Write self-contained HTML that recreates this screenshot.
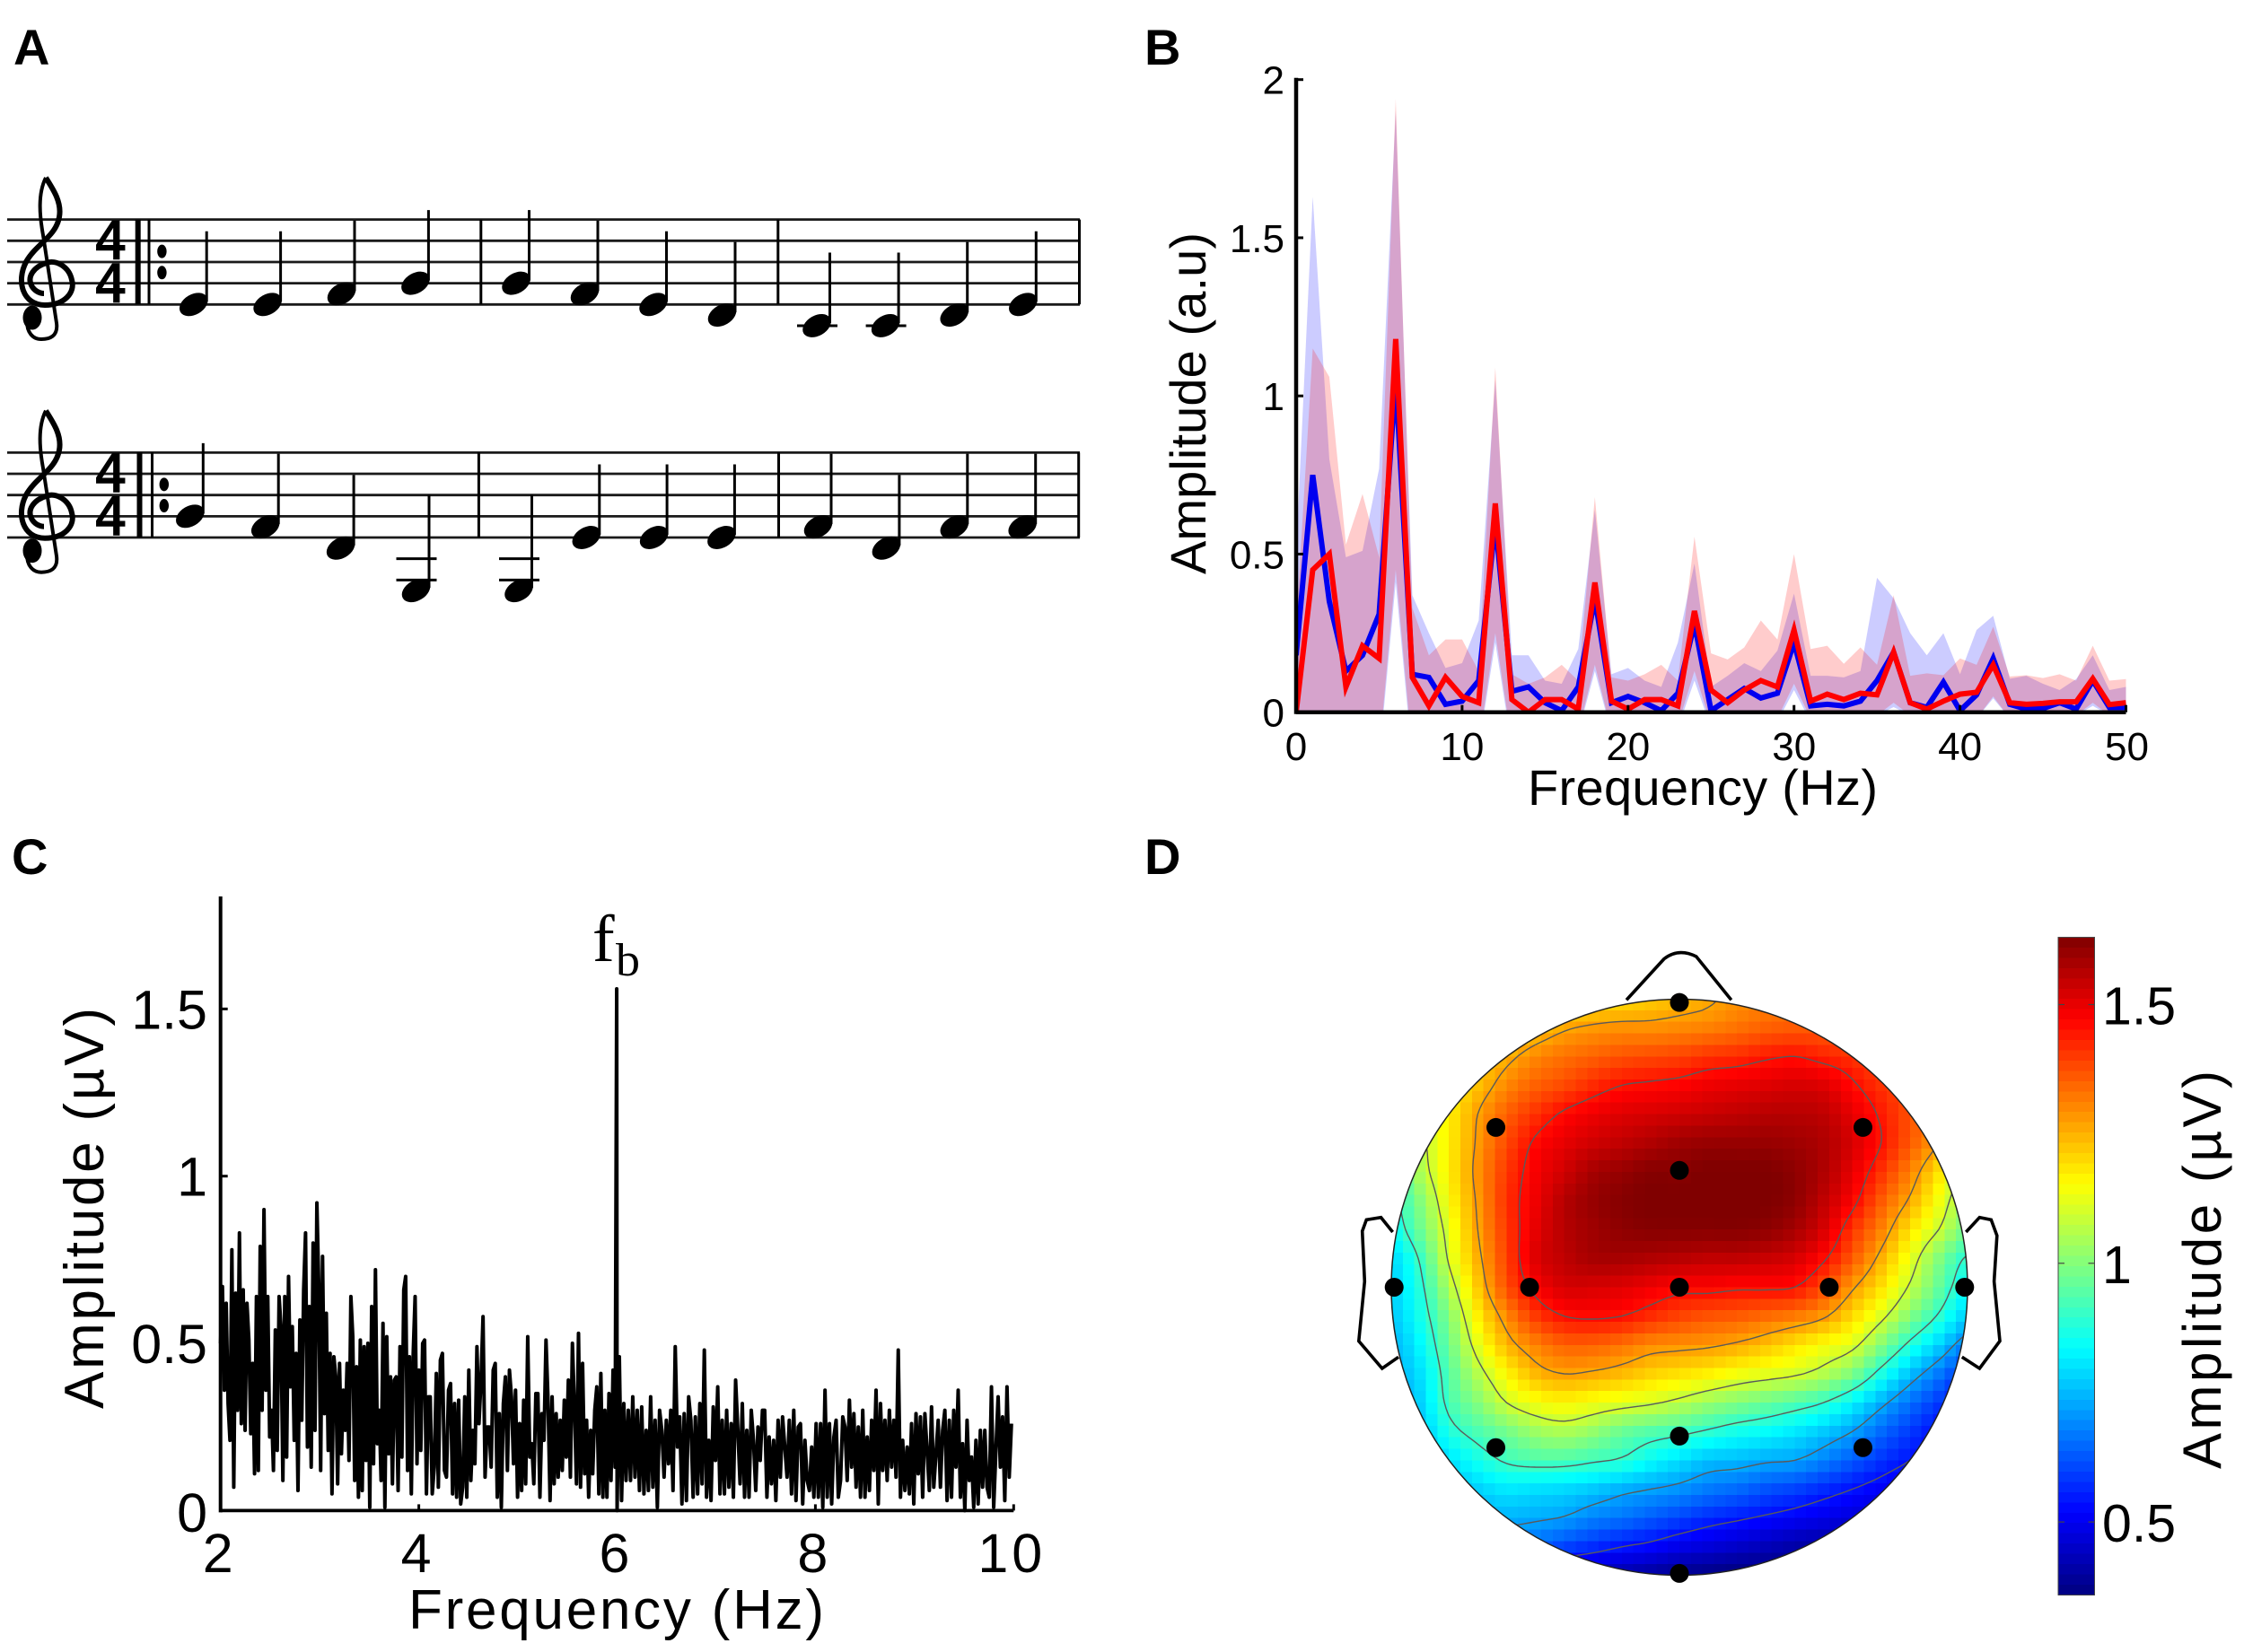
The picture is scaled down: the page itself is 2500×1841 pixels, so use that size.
<!DOCTYPE html>
<html lang="en">
<head>
<meta charset="utf-8">
<title>Music rhythm EEG figure</title>
<style>
html,body{margin:0;padding:0;background:#fff;width:2500px;height:1841px;overflow:hidden}
svg{display:block}
text{font-family:"Liberation Sans",sans-serif;fill:#000}
.tick{font-size:44px}
.tickc{font-size:61px}
.letter{font-size:56px;font-weight:bold}
</style>
</head>
<body>
<svg id="fig" xmlns="http://www.w3.org/2000/svg" width="2500" height="1841" viewBox="0 0 2500 1841">
  <defs>
    <clipPath id="plotB"><rect x="1444" y="60" width="925" height="734"/></clipPath>
    <clipPath id="headClip"><circle cx="1871" cy="1434.5" r="321"/></clipPath>
    <g id="clef-shape">
      <path d="M51 198C60 212 69 226 66 242C62 264 40 272 29 292C18 313 25 340 50 340C72 340 84 326 80 312C77 297 62 289 52 293C38 297 30 308 35 318C38 324 44 327 49 327" fill="none" stroke="#000" stroke-width="6"/>
      <path d="M51 198C42 216 44 240 48 262L63 360C65 375 55 378 46 378C36 378 30 370 30 358" fill="none" stroke="#000" stroke-width="4"/>
      <ellipse cx="36" cy="354" rx="10.5" ry="13.5" fill="#000"/>
    </g>
  </defs>

  <text class="letter" x="15" y="72">A</text>
  <text class="letter" x="1275" y="72">B</text>
  <text class="letter" x="13" y="974">C</text>
  <text class="letter" x="1275" y="974">D</text>

  <g id="panelA"></g>

  <g id="panelB">
    <text font-size="56" transform="translate(1343,640) rotate(-90)" textLength="381">Amplitude (a.u)</text>
    <text font-size="56" x="1702" y="897" textLength="390">Frequency (Hz)</text>
  </g>

  <g id="panelC">
    <text font-size="62" transform="translate(115,1570) rotate(-90)" textLength="447">Amplitude (µV)</text>
    <text font-size="62" x="455" y="1815" textLength="463">Frequency (Hz)</text>
    <text x="660" y="1071" font-size="74" style="font-family:'Liberation Serif',serif">f</text>
    <text x="686" y="1087" font-size="52" textLength="27" lengthAdjust="spacingAndGlyphs" style="font-family:'Liberation Serif',serif">b</text>
  </g>

  <g id="panelD">
    <text font-size="60" transform="translate(2474,1637) rotate(-90)" textLength="444">Amplitude (µV)</text>
  </g>
</svg>

<script>
/* ---------- Panel A: melody, staff steps above the bottom line, one list per staff ---------- */
const melodyStaff1 = [0,0,1,2, 2,1,0,-1, -2,-2,-1,0];
const melodyStaff2 = [2,1,-1,-5, -5,0,0,0, 1,-1,1,1];

/* ---------- Panel B: spectrum series, one value per Hz from 0 to 50 ---------- */
const freqAxisB = [0,1,2,3,4,5,6,7,8,9,10,11,12,13,14,15,16,17,18,19,20,21,22,23,24,25,26,27,28,29,30,31,32,33,34,35,36,37,38,39,40,41,42,43,44,45,46,47,48,49,50];
const meanBlue = [.18,.75,.35,.13,.18,.31,1.05,.12,.11,.025,.035,.1,.6,.066,.08,.03,.005,.08,.36,.03,.05,.03,.005,.06,.28,.005,.04,.075,.045,.06,.22,.02,.025,.02,.035,.10,.19,.03,.015,.095,.005,.055,.17,.025,.01,.012,.03,.01,.10,.015,.015];
const meanRed = [0,.45,.5,.08,.21,.17,1.18,.11,.02,.11,.05,.03,.66,.04,0,.04,.04,.01,.41,.035,.01,.04,.04,.02,.32,.07,.03,.07,.10,.08,.26,.035,.057,.04,.06,.055,.19,.03,.01,.035,.057,.063,.15,.03,.025,.028,.033,.033,.106,.024,.03];
const upperBlue = [.5,1.63,.8,.49,.51,.77,1.9,.37,.25,.14,.155,.29,1.05,.18,.18,.1,.09,.2,.64,.12,.14,.1,.08,.22,.47,.08,.115,.155,.13,.195,.375,.115,.115,.11,.13,.425,.36,.25,.18,.25,.12,.26,.305,.106,.115,.09,.07,.105,.18,.07,.08];
const upperRed = [.27,1.15,1.06,.53,.69,.49,1.94,.33,.18,.23,.23,.13,1.09,.12,.09,.11,.15,.1,.68,.11,.1,.12,.15,.1,.555,.186,.167,.205,.29,.23,.5,.2,.21,.153,.205,.15,.37,.115,.123,.117,.17,.15,.27,.113,.117,.108,.12,.1,.21,.1,.105];
const lowerBlue = [-.1,-.1,-.1,-.1,-.1,-.15,.41,-.15,-.1,-.1,-.1,-.11,.22,-.11,-.1,-.1,-.1,-.065,.13,-.065,-.1,-.1,-.1,-.05,.1,-.05,-.1,-.1,-.1,-.03,.07,-.03,-.1,-.1,-.1,-.01,.016,-.01,-.1,-.1,-.1,-.02,.044,-.02,-.1,-.1,-.1,-.01,.02,-.01,-.1];
const lowerRed = [-.1,-.1,-.1,-.1,-.1,-.13,.45,-.13,-.1,-.1,-.1,-.1,.25,-.1,-.1,-.1,-.1,-.06,.15,-.06,-.1,-.1,-.1,-.04,.13,-.04,-.1,-.1,-.1,-.02,.09,-.02,-.1,-.1,-.1,-.01,.03,-.01,-.1,-.1,-.1,-.02,.05,-.02,-.1,-.1,-.1,-.01,.03,-.01,-.1];
const xTicksB = [0,10,20,30,40,50];
const yTicksB = [0,.5,1,1.5,2];

/* ---------- Panel C: amplitude (hundredths of µV) read across four frequency stretches ---------- */
const ampStretch1 = [50,67,36,62,32,21,78,7,65,30,83,26,66,24,62,51,23,44,11,64,12,79,30,90,36,64,22,30,12,54,18,64,55,9,64,16,70,37,55,21,47,6,57,27,66,83,19,61,13,80,24,92,67,12,76,29,59,18,47,5,46,40,8,44,17,36,24,44,15,64,52,9,43,4,51,6,49,15,50,1,61,14,72,20,30,9,56,1,52,17,40,8,39,40,6,49,16,66,70,12,46,5,47,64,14,42,18,50,51,5,34];
const ampStretch2 = [34,5,13,41,7,45,47,12,10,36,38,5,32,4,33,2,7,34,4,42,9,24,14,49,26,39,58,10,25,25,13,42,44,4,29,1,32,40,12,42,34,14,36,4,26,6,33,8,52,16,20,8,35,35,4,29,21,51,33,3,34,8,29,10,27,12,33,16,39,10,50,31,8,53,7,44,11,27,4,24,11,30,37,5,41,4,30,4,35,9,42,13];
const beatPeak = [156];
const ampStretch3 = [0,46,3,32,9,30,9,34,10,30,6,31,5,24,6,34,7,27,1,30,24,10,27,14,30,6,49,19,28,2,29,3,34,27,4,28,5,32,8,48,4,21,3,31,15,37,5,27,5,30,7,26,4,39,24,8,32,4,24,4,30,21,6,25,15,30,30,4,22,8,21,3,27,10,28,19,10,27,5,30,3,25,26,2,21,9,6,19,4,26];
const ampStretch4 = [4,26,1,36,4,26,2,22,27,4,9,28,25,9,33,13,29,7,25,4,30,4,22,6,27,12,36,2,32,12,27,9,30,13,27,10,48,4,21,6,19,5,26,2,29,11,28,4,29,18,6,31,7,17,27,7,24,30,3,27,4,30,13,36,4,20,0,27,9,16,1,21,2,24,7,24,7,4,37,1,18,34,13,28,3,37,10,26];
const stretchEdgesHz = [2,4.115,6,8.03,10];
const xTicksC = [2,4,6,8,10];
const yTicksC = [.5,1,1.5];

/* ---------- Panel D: scalp amplitude map, 21 rows (front to back) by 21 columns (left to right) ---------- */
const scalpMap = [
[1.0,1.03,1.05,1.08,1.11,1.14,1.17,1.19,1.20,1.22,1.24,1.26,1.29,1.31,1.32,1.32,1.31,1.28,1.24,1.20,1.16],
[1.02,1.05,1.10,1.14,1.18,1.22,1.26,1.28,1.29,1.29,1.30,1.31,1.33,1.35,1.36,1.36,1.35,1.32,1.28,1.24,1.20],
[1.04,1.09,1.15,1.20,1.25,1.30,1.33,1.35,1.37,1.38,1.39,1.41,1.42,1.44,1.45,1.43,1.41,1.37,1.33,1.28,1.23],
[1.05,1.10,1.16,1.23,1.30,1.35,1.38,1.42,1.45,1.46,1.47,1.49,1.50,1.51,1.52,1.51,1.46,1.41,1.37,1.30,1.25],
[1.03,1.10,1.17,1.27,1.35,1.41,1.46,1.49,1.51,1.52,1.53,1.54,1.55,1.56,1.56,1.55,1.50,1.44,1.37,1.30,1.22],
[.98,1.07,1.17,1.28,1.38,1.46,1.50,1.53,1.55,1.57,1.59,1.60,1.60,1.60,1.59,1.57,1.52,1.45,1.36,1.27,1.17],
[.92,1.05,1.17,1.29,1.40,1.48,1.53,1.58,1.60,1.62,1.62,1.63,1.63,1.63,1.61,1.57,1.50,1.41,1.31,1.19,1.07],
[.88,1.0,1.15,1.28,1.41,1.49,1.56,1.60,1.62,1.63,1.63,1.63,1.63,1.63,1.61,1.55,1.47,1.36,1.26,1.14,1.02],
[.85,.97,1.12,1.27,1.40,1.50,1.56,1.59,1.61,1.62,1.62,1.62,1.62,1.61,1.58,1.52,1.41,1.31,1.19,1.09,.98],
[.79,.91,1.10,1.25,1.39,1.51,1.55,1.58,1.58,1.57,1.56,1.55,1.55,1.54,1.52,1.46,1.36,1.25,1.13,1.0,.89],
[.78,.88,1.05,1.22,1.37,1.47,1.52,1.52,1.51,1.49,1.47,1.47,1.46,1.46,1.45,1.38,1.28,1.19,1.08,.96,.84],
[.77,.86,1.0,1.17,1.30,1.40,1.45,1.46,1.45,1.42,1.39,1.37,1.36,1.34,1.32,1.28,1.20,1.11,1.0,.89,.78],
[.75,.83,.97,1.12,1.24,1.31,1.35,1.35,1.33,1.30,1.29,1.28,1.26,1.23,1.19,1.15,1.11,1.0,.88,.78,.68],
[.74,.80,.94,1.06,1.16,1.24,1.27,1.26,1.24,1.21,1.19,1.17,1.14,1.12,1.10,1.06,.99,.87,.76,.67,.58],
[.73,.78,.92,1.0,1.09,1.14,1.16,1.14,1.12,1.10,1.07,1.03,1.0,.97,.94,.90,.83,.74,.66,.59,.52],
[.73,.76,.87,.93,.98,1.03,1.05,1.02,.97,.94,.92,.89,.86,.84,.81,.77,.72,.65,.59,.53,.47],
[.72,.74,.80,.86,.91,.93,.93,.91,.89,.84,.80,.76,.75,.73,.72,.68,.63,.58,.54,.50,.45],
[.71,.73,.75,.78,.81,.80,.79,.77,.74,.72,.70,.67,.65,.62,.60,.57,.54,.51,.48,.45,.42],
[.70,.72,.72,.73,.74,.73,.715,.68,.66,.63,.60,.57,.55,.53,.51,.49,.47,.45,.43,.41,.40],
[.68,.68,.68,.67,.66,.64,.60,.57,.54,.52,.49,.47,.45,.43,.41,.40,.39,.38,.38,.38,.38],
[.60,.60,.58,.56,.54,.49,.45,.43,.42,.40,.38,.37,.36,.36,.37,.37,.37,.37,.37,.37,.37]
];
const contourLevels = [.54,.72,.90,1.09,1.27,1.45];
const colorbarTicks = [.5,1,1.5];
const electrodeNames = ["Fpz","F3","F4","Fz","T7","C3","Cz","C4","T8","P3","Pz","P4","Oz"];
const electrodeAcross = [0,-.637,.637,0,-.99,-.52,0,.52,.99,-.637,0,.637,0];
const electrodeAlong = [-.987,-.554,-.554,-.405,0,0,0,0,0,.556,.516,.556,.992];

/* ---------- helpers ---------- */
const NS = "http://www.w3.org/2000/svg";
function make(tag, parent, attrs, text) {
  const node = document.createElementNS(NS, tag);
  for (const k in attrs) node.setAttribute(k, attrs[k]);
  if (text !== undefined) node.textContent = text;
  parent.appendChild(node);
  return node;
}
function polylinePoints(xs, ys) {
  return xs.map((x, i) => x.toFixed(2) + "," + ys[i].toFixed(2)).join(" ");
}

/* ---------- Panel A drawing ---------- */
(function drawSheetMusic() {
  const panel = document.getElementById("panelA");
  const halfStep = 11.83;
  const staves = [
    {bottom: 339.3, melody: melodyStaff1, starts: [215.7,575,910], gaps: [82.4,76.5,76.6], bars: [535.8,866.8,1202.5], thick: 153.7, thin: 166, dotX: 180.4},
    {bottom: 599, melody: melodyStaff2, starts: [211.8,578,911.5], gaps: [83.9,75.3,75.9], bars: [533.4,867.5,1201.7], thick: 155.5, thin: 169.5, dotX: 182.8}
  ];
  staves.forEach((st, si) => {
    const tag = "staff-" + (si + 1);
    const g = make("g", panel, {});
    
    
    for (let l = 0; l < 5; l++) {
      const y = st.bottom - l * 2 * halfStep;
      const line = make("line", g, {x1: 8, x2: 1203, y1: y, y2: y, stroke: "#1a1a1a", "stroke-width": 2.8});
      
      
    }
    const top = st.bottom - 8 * halfStep;
    const thickBar = make("line", g, {x1: st.thick, x2: st.thick, y1: top, y2: st.bottom, stroke: "#000", "stroke-width": 6});
    
    
    const thinBar = make("line", g, {x1: st.thin, x2: st.thin, y1: top, y2: st.bottom, stroke: "#000", "stroke-width": 3});
    
    
    [3, 5].forEach(step => {
      const dot = make("ellipse", g, {cx: st.dotX, cy: st.bottom - step * halfStep, rx: 5.2, ry: 7.5, fill: "#000"});
      
      
    });
    st.bars.forEach(x => {
      const bar = make("line", g, {x1: x, x2: x, y1: top, y2: st.bottom, stroke: "#000", "stroke-width": 3});
      
      
    });
    const clef = make("use", g, {href: "#clef-shape", transform: "translate(0," + (st.bottom - 339.3) + ")"});
    
    
    [st.bottom - 51, st.bottom - 3].forEach(base => {
      const ts = make("text", g, {x: 105, y: base, "font-size": 58, stroke: "#000", "stroke-width": 1.6, style: "font-family:'DejaVu Sans',sans-serif"}, "4");
      
      
    });
    st.melody.forEach((pitch, i) => {
      const m = Math.floor(i / 4), b = i % 4;
      const x = st.starts[m] + b * st.gaps[m];
      const y = st.bottom - pitch * halfStep;
      for (let p = -2; p >= pitch; p -= 2) {
        const ly = st.bottom - p * halfStep;
        const ledger = make("line", g, {x1: x - 22, x2: x + 23, y1: ly, y2: ly, stroke: "#000", "stroke-width": 3});
        
        
      }
      const head = make("ellipse", g, {cx: x, cy: y, rx: 17, ry: 11.3, fill: "#000", transform: "rotate(-30 " + x + " " + y + ")"});
      
      
      const stemTop = Math.min(y - 81.5, st.bottom - 4 * halfStep);
      const stem = make("line", g, {x1: x + 14.5, x2: x + 14.5, y1: y - 3, y2: stemTop, stroke: "#000", "stroke-width": 3});
      
      
    });
  });
})();

/* ---------- Panel B drawing ---------- */
(function drawSpectrum() {
  const panel = document.getElementById("panelB");
  const xB = f => 1444 + 18.49 * f;
  const yB = a => 793.7 - 352.5 * a;
  const plot = make("g", panel, {"clip-path": "url(#plotB)"});
  
  

  const xsForward = freqAxisB.map(xB);
  const xsBack = xsForward.slice().reverse();
  const blueBand = make("polygon", plot, {
    points: polylinePoints(xsForward.concat(xsBack), upperBlue.map(yB).concat(lowerBlue.slice().reverse().map(yB))),
    fill: "#0000ff", "fill-opacity": .2
  });
  
  
  const redBand = make("polygon", plot, {
    points: polylinePoints(xsForward.concat(xsBack), upperRed.map(yB).concat(lowerRed.slice().reverse().map(yB))),
    fill: "#ff0000", "fill-opacity": .2
  });
  
  
  const blueLine = make("polyline", plot, {
    points: polylinePoints(xsForward, meanBlue.map(yB)), fill: "none", stroke: "#0000f0", "stroke-width": 6, "stroke-linejoin": "miter"
  });
  
  
  const redLine = make("polyline", plot, {
    points: polylinePoints(xsForward, meanRed.map(yB)), fill: "none", stroke: "#ff0000", "stroke-width": 6, "stroke-linejoin": "miter"
  });
  
  

  const yAxis = make("line", panel, {x1: xB(0), x2: xB(0), y1: yB(2) - 2, y2: yB(0) + 2, stroke: "#000", "stroke-width": 4.5});
  
  
  const xAxis = make("line", panel, {x1: xB(0), x2: xB(50), y1: yB(0), y2: yB(0), stroke: "#000", "stroke-width": 4.5});
  
  

  xTicksB.forEach(t => {
    const tick = make("line", panel, {x1: xB(t), x2: xB(t), y1: yB(0), y2: yB(0) - 8, stroke: "#000", "stroke-width": 3});
    
    
    const label = make("text", panel, {x: xB(t) + (t === 50 ? 1 : 0), y: 847, "text-anchor": "middle", class: "tick"}, String(t));
    
    
  });
  yTicksB.forEach(t => {
    const tick = make("line", panel, {x1: xB(0), x2: xB(0) + 8, y1: yB(t), y2: yB(t), stroke: "#000", "stroke-width": 3});
    
    
    const label = make("text", panel, {x: 1431, y: yB(t) + 16, "text-anchor": "end", class: "tick"}, String(t));
    
    
  });
})();

/* ---------- Panel C drawing ---------- */
(function drawEegSpectrum() {
  const panel = document.getElementById("panelC");
  const xC = f => 245.7 + (f - 2) * 110.45;
  const yC = a => 1683.4 - 372.7 * a;
  const stretches = [ampStretch1, ampStretch2, ampStretch3, ampStretch4];
  const xs = [], ys = [];
  stretches.forEach((arr, s) => {
    const lo = stretchEdgesHz[s], hi = stretchEdgesHz[s + 1];
    arr.forEach((v, i) => {
      xs.push(xC(lo + (hi - lo) * i / arr.length));
      ys.push(yC(v / 100));
    });
    if (s === 1) {
      xs.push(xC(stretchEdgesHz[2] - .004));
      ys.push(yC(beatPeak[0] / 100));
    }
  });
  const trace = make("polyline", panel, {
    points: polylinePoints(xs, ys), fill: "none", stroke: "#000", "stroke-width": 4, "stroke-linejoin": "round"
  });
  
  

  const yAxis = make("line", panel, {x1: xC(2), x2: xC(2), y1: 999, y2: yC(0) + 2, stroke: "#000", "stroke-width": 4});
  
  
  const xAxis = make("line", panel, {x1: xC(2), x2: xC(10), y1: yC(0), y2: yC(0), stroke: "#000", "stroke-width": 3.8});
  
  

  xTicksC.forEach(t => {
    const tick = make("line", panel, {x1: xC(t), x2: xC(t), y1: yC(0), y2: yC(0) - 7, stroke: "#000", "stroke-width": 3});
    
    
    const label = make("text", panel, {x: xC(t) - (t === 10 ? 2 : 3), y: 1752, "text-anchor": "middle", class: "tickc", "letter-spacing": t === 10 ? 4 : 0}, String(t));
    
    
  });
  yTicksC.forEach(t => {
    const tick = make("line", panel, {x1: xC(2), x2: xC(2) + 8, y1: yC(t), y2: yC(t), stroke: "#000", "stroke-width": 3});
    
    
    const label = make("text", panel, {x: 231, y: yC(t) + 22, "text-anchor": "end", class: "tickc"}, String(t));
    
    
  });
  const zero = make("text", panel, {x: 231, y: 1707, "text-anchor": "end", class: "tickc"}, "0");
  
  
})();

/* ---------- Panel D drawing ---------- */
(function drawTopography() {
  const panel = document.getElementById("panelD");
  const px = u => 1871 + 321 * u;
  const py = v => 1434.5 + 321.5 * v;
  const scaleMin = .359, scaleMax = 1.63;

  function jet(value) {
    const t = Math.max(0, Math.min(1, (value - scaleMin) / (scaleMax - scaleMin)));
    const chan = c => Math.round(255 * Math.max(0, Math.min(1, 1.5 - Math.abs(4 * t - c))));
    return "rgb(" + chan(3) + "," + chan(2) + "," + chan(1) + ")";
  }
  function cr(a, b, c, d, t) {
    return .5 * ((2 * b) + (c - a) * t + (2 * a - 5 * b + 4 * c - d) * t * t + (3 * b - a - 3 * c + d) * t * t * t);
  }
  function at(r, c) {
    const rr = Math.max(0, Math.min(scalpMap.length - 1, r));
    const cc = Math.max(0, Math.min(scalpMap[0].length - 1, c));
    return scalpMap[rr][cc];
  }
  function sample(u, v) {
    const gx = (u + 1) * 10, gy = (v + 1) * 10;
    const ix = Math.max(0, Math.min(19, Math.floor(gx)));
    const iy = Math.max(0, Math.min(19, Math.floor(gy)));
    const fx = gx - ix, fy = gy - iy;
    const rowVals = [];
    for (let k = -1; k <= 2; k++) {
      rowVals.push(cr(at(iy + k, ix - 1), at(iy + k, ix), at(iy + k, ix + 1), at(iy + k, ix + 2), fx));
    }
    return cr(rowVals[0], rowVals[1], rowVals[2], rowVals[3], fy);
  }

  const map = make("g", panel, {"clip-path": "url(#headClip)", "shape-rendering": "crispEdges"});
  
  
  const cells = 50, cellU = 2 / cells;
  for (let r = 0; r < cells; r++) {
    for (let c = 0; c < cells; c++) {
      const u = -1 + (c + .5) * cellU, v = -1 + (r + .5) * cellU;
      if (u * u + v * v > 1.12) continue;
      const cell = make("rect", map, {
        x: px(u - cellU / 2).toFixed(1), y: py(v - cellU / 2).toFixed(1),
        width: (321 * cellU + .6).toFixed(1), height: (321.5 * cellU + .6).toFixed(1),
        fill: jet(sample(u, v))
      });
      
      
    }
  }

  const fine = 100;
  const nodes = [];
  for (let r = 0; r <= fine; r++) {
    const row = [];
    for (let c = 0; c <= fine; c++) row.push(sample(-1 + 2 * c / fine, -1 + 2 * r / fine));
    nodes.push(row);
  }
  const contourGroup = make("g", panel, {"clip-path": "url(#headClip)"});
  
  
  contourLevels.forEach(level => {
    let d = "";
    const X = c => px(-1 + 2 * c / fine).toFixed(1);
    const Y = r => py(-1 + 2 * r / fine).toFixed(1);
    for (let r = 0; r < fine; r++) {
      for (let c = 0; c < fine; c++) {
        const a = nodes[r][c], b = nodes[r][c + 1], e = nodes[r + 1][c + 1], f = nodes[r + 1][c];
        const pts = [];
        if ((a < level) !== (b < level)) pts.push([c + (level - a) / (b - a), r]);
        if ((b < level) !== (e < level)) pts.push([c + 1, r + (level - b) / (e - b)]);
        if ((f < level) !== (e < level)) pts.push([c + (level - f) / (e - f), r + 1]);
        if ((a < level) !== (f < level)) pts.push([c, r + (level - a) / (f - a)]);
        for (let k = 0; k + 1 < pts.length; k += 2) {
          d += "M" + X(pts[k][0]) + " " + Y(pts[k][1]) + "L" + X(pts[k + 1][0]) + " " + Y(pts[k + 1][1]);
        }
      }
    }
    const contour = make("path", contourGroup, {d: d, fill: "none", stroke: "#5a5a5a", "stroke-width": 1.4});
    
    
  });

  const head = make("circle", panel, {cx: 1871, cy: 1434.5, r: 321, fill: "none", stroke: "#222", "stroke-width": 1.5});
  
  
  const nose = make("path", panel, {d: "M1812 1114.4L1854 1068.5Q1870 1056 1889.8 1066L1928.8 1114.4", fill: "none", stroke: "#000", "stroke-width": 3.6});
  
  
  const earLeft = make("path", panel, {d: "M1551.6 1373L1538.5 1356.7L1522.3 1359.3L1517.7 1372L1520.3 1428L1513.8 1494.5L1539.8 1525L1558 1512.3", fill: "none", stroke: "#000", "stroke-width": 3.6});
  
  
  const earRight = make("path", panel, {d: "M2190.3 1373L2205.4 1356.7L2218.3 1359.3L2224.8 1377L2221.6 1428L2228 1494.5L2205.4 1525L2185.8 1512.3", fill: "none", stroke: "#000", "stroke-width": 3.6});
  
  

  electrodeNames.forEach((name, i) => {
    const dot = make("circle", panel, {cx: px(electrodeAcross[i]), cy: py(electrodeAlong[i]), r: 10.5, fill: "#000"});
    
    
  });

  /* colour bar */
  const yBar = v => 1407.8 - (v - 1) * 576.6;
  const bar = make("g", panel, {"shape-rendering": "crispEdges"});
  
  
  const steps = 64;
  for (let i = 0; i < steps; i++) {
    const vHi = scaleMax - (scaleMax - scaleMin) * i / steps;
    const vLo = scaleMax - (scaleMax - scaleMin) * (i + 1) / steps;
    const seg = make("rect", bar, {x: 2293, width: 40.5, y: yBar(vHi).toFixed(1), height: (yBar(vLo) - yBar(vHi) + .6).toFixed(1), fill: jet((vHi + vLo) / 2)});
    
    
  }
  const frame = make("rect", panel, {x: 2293, y: yBar(scaleMax), width: 40.5, height: yBar(scaleMin) - yBar(scaleMax), fill: "none", stroke: "#444", "stroke-width": 1});
  
  
  colorbarTicks.forEach(t => {
    const tickL = make("line", panel, {x1: 2293, x2: 2300, y1: yBar(t), y2: yBar(t), stroke: "#444", "stroke-width": 1.2});
    
    
    const tickR = make("line", panel, {x1: 2326.5, x2: 2333.5, y1: yBar(t), y2: yBar(t), stroke: "#444", "stroke-width": 1.2});
    
    
    const label = make("text", panel, {x: 2342, y: yBar(t) + 22, "font-size": 59}, String(t));
    
    
  });
})();
</script>
</body>
</html>
